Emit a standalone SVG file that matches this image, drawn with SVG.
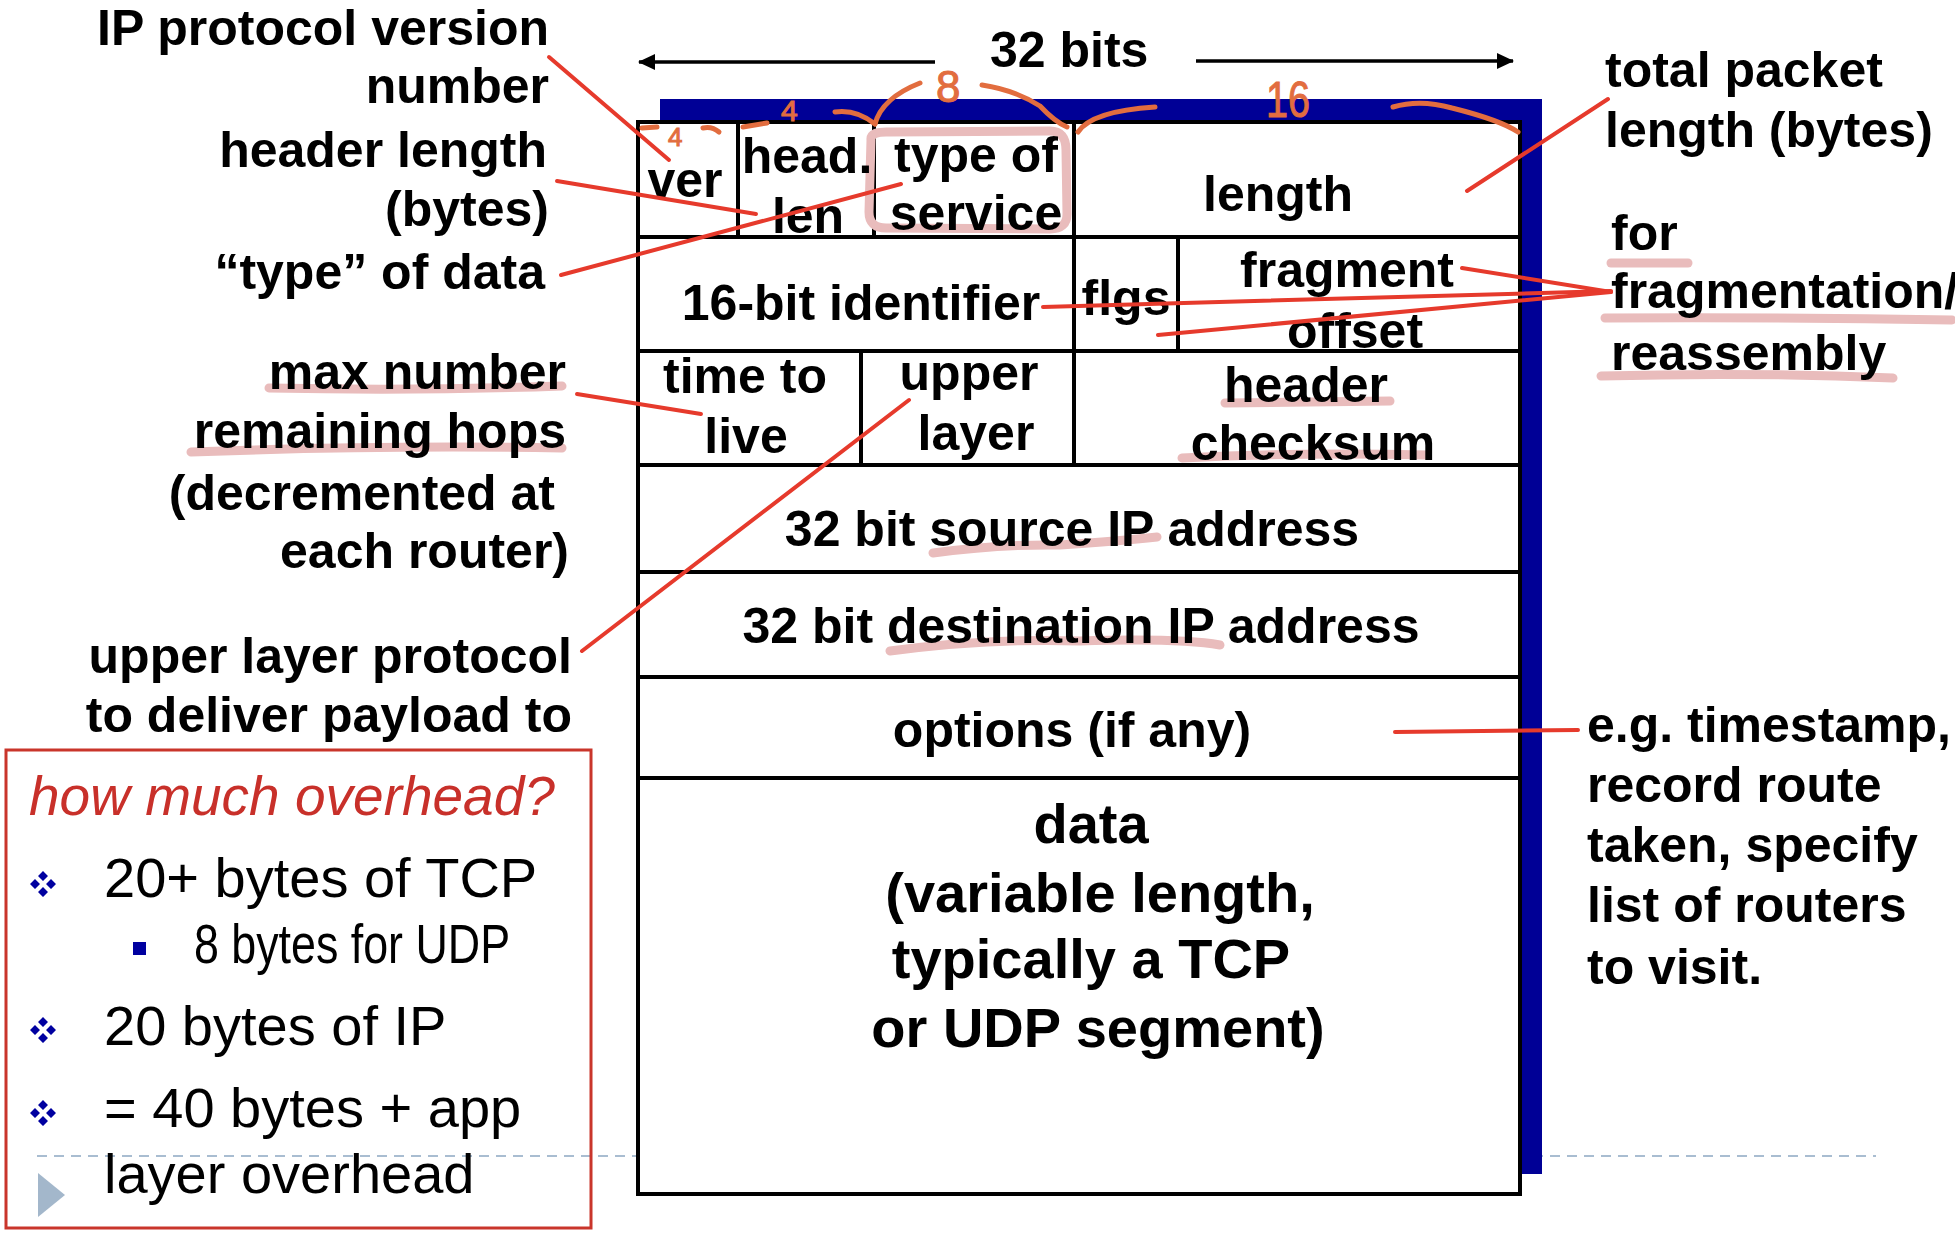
<svg xmlns="http://www.w3.org/2000/svg" width="1955" height="1237" viewBox="0 0 1955 1237">
<defs>
<style>
.t{font-family:"Liberation Sans",Arial,sans-serif;font-weight:bold;font-size:50px;fill:#000}
.d{font-size:56px}
.c{text-anchor:middle}
.e{text-anchor:end}
.n{font-family:"Liberation Sans",Arial,sans-serif;font-size:56px;fill:#000}
.grid{stroke:#000;stroke-width:4;fill:none}
.box{stroke:#000;stroke-width:4;fill:#fff}
.red{stroke:#e63a2c;stroke-width:4;fill:none;stroke-linecap:round}
.hl{stroke:#e9bcbc;stroke-width:9;fill:none;stroke-linecap:round;stroke-linejoin:round}
.hw{stroke:#e26d3f;stroke-width:5;fill:none;stroke-linecap:round}
.hwt{font-family:"Liberation Sans",Arial,sans-serif;fill:#e26d3f;stroke:#e26d3f;stroke-width:1}
.arrow{stroke:#000;stroke-width:3.5;fill:none}
</style>
<marker id="ah" viewBox="0 0 17 16" refX="16" refY="8" markerWidth="17" markerHeight="16" markerUnits="userSpaceOnUse" orient="auto">
<path d="M0,0 L17,8 L0,16 z" fill="#000"/>
</marker>
<g id="diamond">
<path d="M0,-13 L5,-8 L0,-3 L-5,-8 z M0,3 L5,8 L0,13 L-5,8 z M-13,0 L-8,-5 L-3,0 L-8,5 z M3,0 L8,-5 L13,0 L8,5 z" fill="#0000a0"/>
</g>
</defs>
<rect width="1955" height="1237" fill="#fff"/>

<line x1="37" y1="1156" x2="1876" y2="1156" stroke="#a9bdd1" stroke-width="2" stroke-dasharray="10 7"/>

<g id="header-frame">
<rect x="660" y="99" width="882" height="1075" fill="#000096"/>
<rect x="638" y="122" width="882" height="1072" class="box"/>
<path class="grid" d="M638,237 H1520 M638,351 H1520 M638,465 H1520 M638,572 H1520 M638,677 H1520 M638,778 H1520 M738,122 V237 M874,122 V237 M1074,122 V465 M1178,237 V351 M861,351 V465"/>
</g>

<g id="highlights">
<path class="hl" d="M871,140 Q870,131 890,132 L1050,131 Q1066,131 1066,150 L1067,214 Q1067,229 1050,229 L886,228 Q869,228 869,212 Z"/>
<path class="hl" d="M269,388 Q420,391 562,386"/>
<path class="hl" d="M191,452 Q380,445 562,448"/>
<path class="hl" d="M1225,403 L1390,401"/>
<path class="hl" d="M1182,458 Q1300,452 1427,455"/>
<path class="hl" d="M933,553 Q1000,544 1060,545 Q1120,541 1157,537"/>
<path class="hl" d="M890,651 Q990,638 1080,641 Q1180,638 1220,645"/>
<path class="hl" d="M1611,263 L1688,263"/>
<path class="hl" d="M1605,318 Q1780,317 1952,320"/>
<path class="hl" d="M1601,376 Q1750,372 1893,378"/>
</g>

<g id="width-label">
<text class="t" x="990" y="67">32 bits</text>
<line class="arrow" x1="935" y1="62" x2="639" y2="62" marker-end="url(#ah)"/>
<line class="arrow" x1="1196" y1="61" x2="1513" y2="61" marker-end="url(#ah)"/>
</g>

<g id="field-ver"><text class="t c" x="685" y="197">ver</text></g>
<g id="field-hlen"><text class="t c" x="807" y="173">head.</text><text class="t c" x="808" y="233">len</text></g>
<g id="field-tos"><text class="t c" x="976" y="172">type of</text><text class="t c" x="976" y="230">service</text></g>
<g id="field-length"><text class="t c" x="1278" y="211">length</text></g>
<g id="field-id"><text class="t c" x="861" y="320">16-bit identifier</text></g>
<g id="field-flags"><text class="t c" x="1126" y="315">flgs</text></g>
<g id="field-frag"><text class="t c" x="1347" y="287">fragment</text><text class="t c" x="1355" y="348">offset</text></g>
<g id="field-ttl"><text class="t c" x="745" y="393">time to</text><text class="t c" x="746" y="453">live</text></g>
<g id="field-proto"><text class="t c" x="969" y="390">upper</text><text class="t c" x="976" y="450">layer</text></g>
<g id="field-checksum"><text class="t c" x="1306" y="402">header</text><text class="t c" x="1313" y="460">checksum</text></g>
<g id="field-src"><text class="t c" x="1072" y="546">32 bit source IP address</text></g>
<g id="field-dst"><text class="t c" x="1081" y="643">32 bit destination IP address</text></g>
<g id="field-options"><text class="t c" x="1072" y="747">options (if any)</text></g>
<g id="field-data">
<text class="t d c" x="1091" y="843">data</text>
<text class="t d c" x="1100" y="912">(variable length,</text>
<text class="t d c" x="1091" y="978">typically a TCP</text>
<text class="t d c" x="1098" y="1047">or UDP segment)</text>
</g>

<g id="handwriting">
<path class="hw" d="M642,128 L657,127"/>
<text class="hwt" x="668" y="146" font-size="26">4</text>
<path class="hw" d="M703,128 Q712,126 719,132"/>
<path class="hw" d="M743,127 L767,123"/>
<text class="hwt" x="781" y="121" font-size="30">4</text>
<path class="hw" d="M835,112 Q856,109 875,124"/>
<path class="hw" d="M875,124 Q882,98 920,83"/>
<text class="hwt" x="936" y="102" font-size="44">8</text>
<path class="hw" d="M982,85 Q1015,90 1040,106 Q1055,122 1067,127"/>
<path class="hw" d="M1078,132 Q1092,111 1155,107"/>
<text class="hwt" x="1266" y="117" font-size="50" textLength="44" lengthAdjust="spacingAndGlyphs">16</text>
<path class="hw" d="M1393,107 Q1420,99 1452,108 Q1500,120 1518,132"/>
</g>

<g id="label-version"><text class="t e" x="549" y="45">IP protocol version</text><text class="t e" x="549" y="103">number</text></g>
<g id="label-hlen"><text class="t e" x="547" y="167">header length</text><text class="t e" x="549" y="226">(bytes)</text></g>
<g id="label-tos"><text class="t e" x="545" y="289">“type” of data</text></g>
<g id="label-ttl">
<text class="t e" x="566" y="389">max number</text>
<text class="t e" x="566" y="448">remaining hops</text>
<text class="t e" x="555" y="510">(decremented at</text>
<text class="t e" x="569" y="568">each router)</text>
</g>
<g id="label-proto"><text class="t e" x="572" y="673">upper layer protocol</text><text class="t e" x="572" y="732">to deliver payload to</text></g>
<g id="label-length"><text class="t" x="1605" y="87">total packet</text><text class="t" x="1605" y="147">length (bytes)</text></g>
<g id="label-frag"><text class="t" x="1611" y="250">for</text><text class="t" x="1611" y="308">fragmentation/</text><text class="t" x="1611" y="370">reassembly</text></g>
<g id="label-options">
<text class="t" x="1587" y="742">e.g. timestamp,</text>
<text class="t" x="1587" y="802">record route</text>
<text class="t" x="1587" y="862">taken, specify</text>
<text class="t" x="1587" y="922">list of routers</text>
<text class="t" x="1587" y="984">to visit.</text>
</g>

<g id="connectors">
<line class="red" x1="549" y1="57" x2="669" y2="160"/>
<line class="red" x1="557" y1="181" x2="756" y2="214"/>
<line class="red" x1="561" y1="275" x2="901" y2="184"/>
<line class="red" x1="577" y1="394" x2="701" y2="414"/>
<line class="red" x1="582" y1="651" x2="909" y2="400"/>
<line class="red" x1="1608" y1="99" x2="1467" y2="191"/>
<line class="red" x1="1462" y1="268" x2="1611" y2="292"/>
<line class="red" x1="1043" y1="307" x2="1611" y2="291"/>
<line class="red" x1="1158" y1="335" x2="1611" y2="292"/>
<line class="red" x1="1395" y1="732" x2="1578" y2="730"/>
</g>

<g id="overhead-box">
<rect x="6" y="750" width="585" height="478" fill="none" stroke="#c9352b" stroke-width="3"/>
<text x="29" y="815" font-family="Liberation Sans, Arial, sans-serif" font-style="italic" font-size="55" fill="#c8302a">how much overhead?</text>
<use href="#diamond" x="43" y="884"/>
<text class="n" x="104" y="897">20+ bytes of TCP</text>
<rect x="133" y="942" width="13" height="13" fill="#0000a0"/>
<text class="n" x="194" y="963" font-size="41" textLength="316" lengthAdjust="spacingAndGlyphs">8 bytes for UDP</text>
<use href="#diamond" x="43" y="1030"/>
<text class="n" x="104" y="1045">20 bytes of IP</text>
<use href="#diamond" x="43" y="1113"/>
<text class="n" x="104" y="1127">= 40 bytes + app</text>
<polygon points="38,1173 65,1195 38,1217" fill="#a3b7cb"/>
<text class="n" x="104" y="1193">layer overhead</text>
</g>
</svg>
